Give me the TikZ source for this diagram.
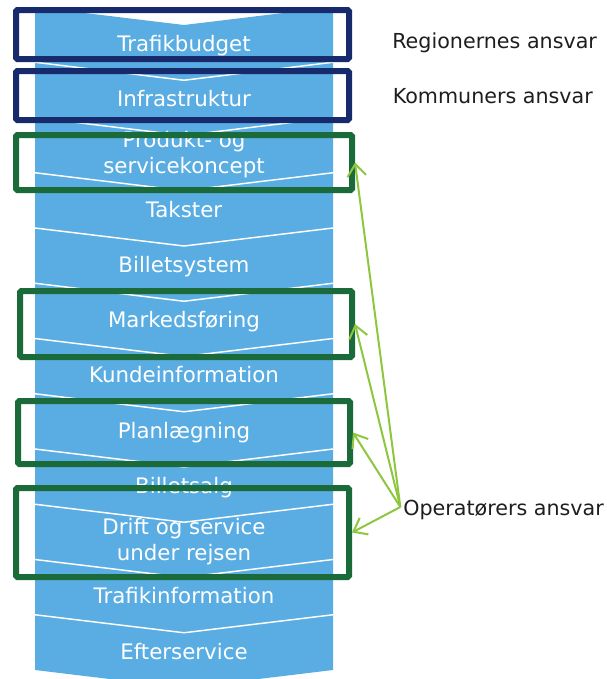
\documentclass[tikz,border=0pt]{standalone}
\usepackage{fontspec}
\setmainfont{DejaVu Sans}
\usetikzlibrary{arrows.meta,fit}
\definecolor{kolonne}{HTML}{5AADE2}
\definecolor{navy}{HTML}{172B6C}
\definecolor{moerkgroen}{HTML}{1B6B3A}
\definecolor{lysgroen}{HTML}{8DC63F}
\definecolor{tekst}{HTML}{1E1E1E}
\tikzset{
  trin/.style={text=white, font=\fontsize{16}{19}\selectfont, inner sep=0pt, align=center, anchor=base},
  note/.style={text=tekst, font=\fontsize{15.5}{19}\selectfont, inner sep=0pt, anchor=base west, text height=0.75em, text depth=0.25em},
  skille/.style={white, line width=1.1pt, line join=miter},
  ramme/.style={draw=#1, line width=4.5pt, inner sep=0pt, rounded corners=1pt},
  pil/.style={lysgroen, line width=1.5pt, -{Straight Barb[length=9pt,width=14pt]}}
}
\begin{document}
\begin{tikzpicture}[x=0.75pt,y=-0.75pt]
\clip (0,0) rectangle (607,679); \useasboundingbox (0,0) rectangle (607,679);
\fill[kolonne] (35,7) -- (184,25) -- (333,7) -- (333,670) -- (184,688) -- (35,670) -- cycle;
\foreach \k in {1,...,11} \draw[skille] (35,{7+55.25*\k}) -- (184,{25+55.25*\k}) -- (333,{7+55.25*\k});
\foreach \navn/\dy [count=\k from 0] in {Trafikbudget/44.3, Infrastruktur/44.3, Produkt- og\\servicekoncept/55.8, Takster/44.3, Billetsystem/44.3, Markedsføring/44.3, Kundeinformation/44.3, Planlægning/44.3, Billetsalg/44.3, Drift og service\\under rejsen/55.8, Trafikinformation/44.3, Efterservice/44.3}
  \node[trin] (t\k) at (184,{7+55.25*\k+\dy}) {\navn};
\node[ramme=navy, fit={(16,10) (349,59)}] (b1) {}; \node[ramme=navy, fit={(16,71) (349,120)}] (b2) {};
\node[ramme=moerkgroen, fit={(16,135) (352,190)}] (b3) {}; \node[ramme=moerkgroen, fit={(20,291) (352,357)}] (b4) {};
\node[ramme=moerkgroen, fit={(18,401) (350,464)}] (b5) {}; \node[ramme=moerkgroen, fit={(16,488) (349,577)}] (b6) {};
\node[note] (reg) at (392,48.3) {Regionernes ansvar}; \node[note] (kom) at (392.5,103.3) {Kommuners ansvar};
\node[note] (op) at (403,515) {Operatørers ansvar};
\foreach \b in {b3,b4,b5,b6} \draw[pil] ([shift={(-2pt,3.5pt)}]op.west) -- (\b.east);
\end{tikzpicture}
\end{document}
